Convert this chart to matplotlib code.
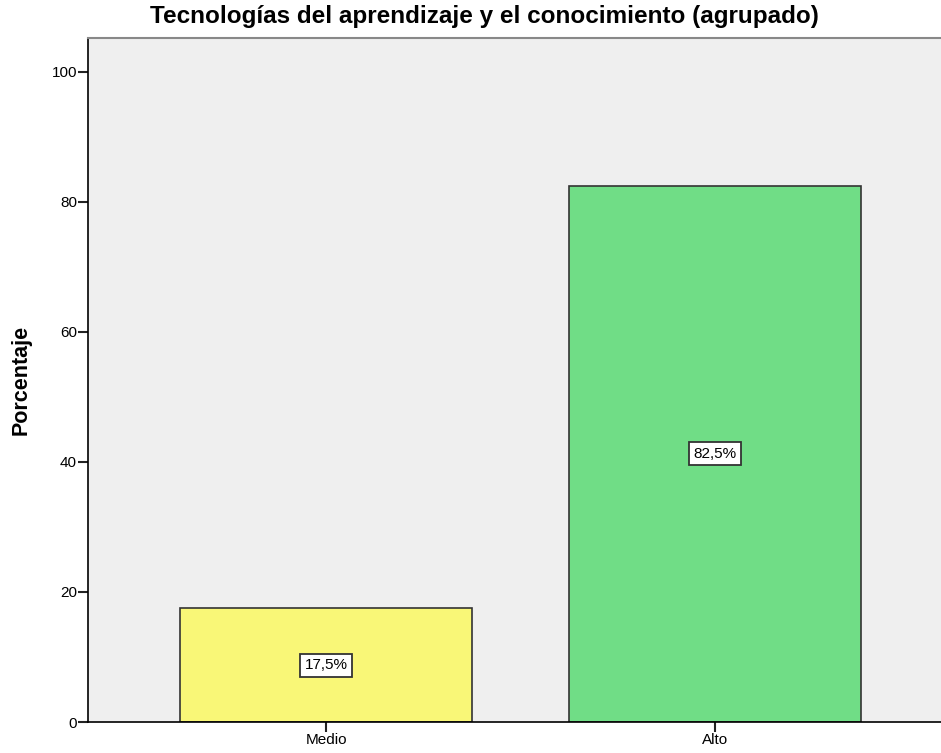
import matplotlib.pyplot as plt
import numpy as np

plt.rcParams['font.family'] = ['Liberation Sans', 'DejaVu Sans']

categorias = ['Medio', 'Alto']
porcentajes = [17.5, 82.5]
colores = ['#f9f777', '#70dd86']
etiquetas = ['17,5%', '82,5%']

fig = plt.figure(figsize=(9.41, 7.53), dpi=100)
ax = fig.add_axes([88/941, 31/753, 1 - 88/941, (722-38)/753])
ax.set_facecolor('#efefef')

x = np.arange(len(categorias))
bars = ax.bar(x, porcentajes, width=0.75, color=colores, edgecolor='#333333', linewidth=1.2)

# etiquetas de porcentaje en el centro de cada barra
for b, txt in zip(bars, etiquetas):
    ax.text(b.get_x() + b.get_width()/2, b.get_height()/2, txt, ha='center', va='center',
            fontsize=11, bbox=dict(boxstyle='square,pad=0.3', fc='white', ec='#333333', lw=1.3))

ax.set_xlim(-0.612, 1.581)
ax.set_ylim(0, 105.2)
ax.set_yticks([0, 20, 40, 60, 80, 100])
ax.set_xticks(x)
ax.set_xticklabels(categorias)
ax.tick_params(axis='both', labelsize=11, length=7, width=1.5, color='#222222', pad=1)

ax.spines['right'].set_visible(False)
ax.spines['top'].set_color('#888888')
ax.spines['top'].set_linewidth(1.5)
ax.spines['left'].set_linewidth(1.2)
ax.spines['bottom'].set_linewidth(1.2)

ax.set_ylabel('Porcentaje', fontsize=15.5, fontweight='bold', labelpad=14)
fig.text(484/941, 1 - 17/753, 'Tecnologías del aprendizaje y el conocimiento (agrupado)',
         ha='center', va='center', fontsize=17.5, fontweight='bold')

fig.savefig('out.png', dpi=100)
